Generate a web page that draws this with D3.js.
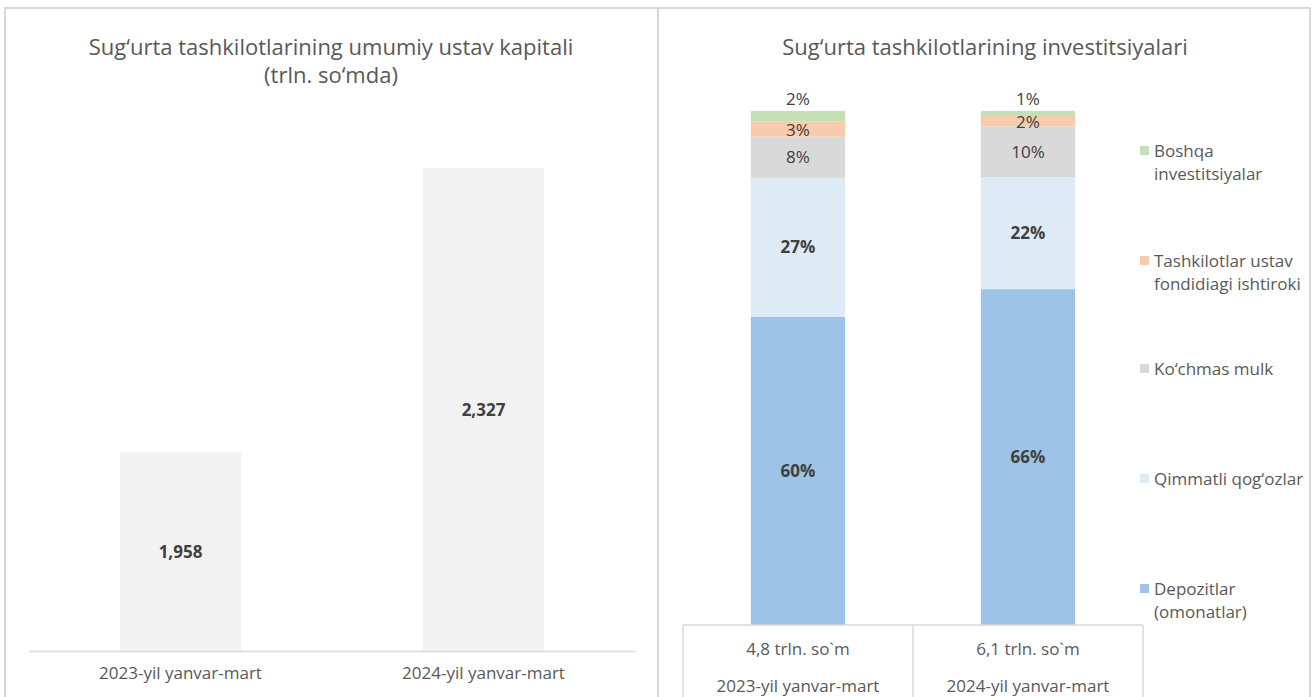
<!DOCTYPE html>
<html lang="uz">
<head>
<meta charset="UTF-8">
<title>Sug‘urta tashkilotlari</title>
<script src="https://d3js.org/d3.v7.min.js"></script>
<style>
    body { margin: 0; background: #fff; font-family: "Open Sans", "Noto Sans", sans-serif; }
    text { fill: #595959; }
    .lbl { fill: #404040; }
</style>
</head>
<body>
<div id="chart"></div>
<script>
    // --- data ---
    const periods = ["2023-yil yanvar-mart", "2024-yil yanvar-mart"];
    const capital = [1.958, 2.327];
    const capitalLabels = ["1,958", "2,327"];

    const investTotals = ["4,8 trln. so`m", "6,1 trln. so`m"];
    const seriesNames = ["Depozitlar (omonatlar)", "Qimmatli qog‘ozlar", "Ko‘chmas mulk",
        "Tashkilotlar ustav fondidiagi ishtiroki", "Boshqa investitsiyalar"];
    const legendLines = [["Depozitlar", "(omonatlar)"], ["Qimmatli qog‘ozlar"], ["Ko‘chmas mulk"],
        ["Tashkilotlar ustav", "fondidiagi ishtiroki"], ["Boshqa", "investitsiyalar"]];
    const depozit = [60, 66];
    const qimmatli = [27, 22];
    const kochmas = [8, 10];
    const tashkilot = [3, 2];
    const boshqa = [2, 1];
    const colors = ["#9dc3e6", "#deebf7", "#d9d9d9", "#f8cbad", "#c5e0b4"];

    const W = 1313, H = 697;
    const svg = d3.select("#chart").append("svg").attr("width", W).attr("height", H);

    // panel frames
    svg.append("rect").attr("x", 5).attr("y", 8).attr("width", 653).attr("height", 700)
        .attr("fill", "none").attr("stroke", "#d9d9d9").attr("stroke-width", 2);
    svg.append("rect").attr("x", 658).attr("y", 8).attr("width", 652).attr("height", 700)
        .attr("fill", "none").attr("stroke", "#d9d9d9").attr("stroke-width", 2);

    // ---------- left chart ----------
    const base = 651;
    const x1 = d3.scaleBand().domain(periods).range([29, 635]).paddingInner(0.6).paddingOuter(0.3);
    const y1 = d3.scaleLinear().domain([1.7, 2.4]).range([base, 112]);

    const left = svg.append("g");
    left.append("text").attr("x", 331).attr("y", 55).attr("text-anchor", "middle")
        .style("font-size", "22px").text("Sug‘urta tashkilotlarining umumiy ustav kapitali");
    left.append("text").attr("x", 331).attr("y", 83).attr("text-anchor", "middle")
        .style("font-size", "22px").text("(trln. so‘mda)");

    left.selectAll("rect.bar").data(capital).join("rect")
        .attr("class", "bar")
        .attr("x", (d, i) => x1(periods[i]))
        .attr("y", d => y1(d))
        .attr("width", x1.bandwidth())
        .attr("height", d => base - y1(d))
        .attr("fill", "#f2f2f2");

    left.selectAll("text.val").data(capital).join("text")
        .attr("class", "val lbl")
        .attr("x", (d, i) => x1(periods[i]) + x1.bandwidth() / 2)
        .attr("y", d => (y1(d) + base) / 2)
        .attr("dy", "0.35em")
        .attr("text-anchor", "middle")
        .style("font-size", "17px").style("font-weight", "bold")
        .text((d, i) => capitalLabels[i]);

    const ax1 = left.append("g").attr("transform", `translate(0,${base})`)
        .call(d3.axisBottom(x1).tickSize(0).tickPadding(16));
    ax1.select(".domain").attr("stroke", "#d9d9d9").attr("stroke-width", 1.5);
    ax1.selectAll("text").style("font-size", "17px").style("font-family", "'Open Sans', sans-serif")
        .attr("fill", "#595959");

    // ---------- right chart ----------
    const base2 = 625;
    const x2 = d3.scaleBand().domain(periods).range([683, 1143]).paddingInner(0.59).paddingOuter(0.295);
    const y2 = d3.scaleLinear().domain([0, 1]).range([base2, 111]);

    const rows = periods.map((p, i) => ({
        period: p,
        s0: depozit[i], s1: qimmatli[i], s2: kochmas[i], s3: tashkilot[i], s4: boshqa[i]
    }));
    const keys = ["s0", "s1", "s2", "s3", "s4"];
    const stacked = d3.stack().keys(keys).offset(d3.stackOffsetExpand)(rows);

    const right = svg.append("g");
    right.append("text").attr("x", 985).attr("y", 55).attr("text-anchor", "middle")
        .style("font-size", "22px").text("Sug‘urta tashkilotlarining investitsiyalari");

    const layer = right.selectAll("g.layer").data(stacked).join("g")
        .attr("class", "layer").attr("fill", (d, i) => colors[i]);

    layer.selectAll("rect").data(d => d).join("rect")
        .attr("x", d => x2(d.data.period))
        .attr("y", d => y2(d[1]))
        .attr("width", x2.bandwidth())
        .attr("height", d => y2(d[0]) - y2(d[1]));

    stacked.forEach((s, si) => {
        right.selectAll(null).data(s).join("text")
            .attr("class", "lbl")
            .attr("x", d => x2(d.data.period) + x2.bandwidth() / 2)
            .attr("y", d => si === 4 ? y2(d[1]) - 12 : (y2(d[0]) + y2(d[1])) / 2 + (si === 3 ? 1 : 0))
            .attr("dy", "0.35em")
            .attr("text-anchor", "middle")
            .style("font-size", "17px")
            .style("font-weight", si < 2 ? "bold" : "normal")
            .text(d => d.data[keys[si]] + "%");
    });

    // table under bars
    const tbl = right.append("g").attr("stroke", "#d9d9d9").attr("stroke-width", 1.5);
    const [t0, t1] = x2.range();
    const step = x2.step();
    tbl.append("line").attr("x1", t0).attr("x2", t1).attr("y1", base2).attr("y2", base2);
    [t0, t0 + step, t1].forEach(xx => {
        tbl.append("line").attr("x1", xx).attr("x2", xx).attr("y1", base2).attr("y2", H);
    });
    periods.forEach((p, i) => {
        const cx = x2(p) + x2.bandwidth() / 2;
        right.append("text").attr("x", cx).attr("y", 655).attr("text-anchor", "middle")
            .style("font-size", "17px").text(investTotals[i]);
        right.append("text").attr("x", cx).attr("y", 692).attr("text-anchor", "middle")
            .style("font-size", "17px").text(p);
    });

    // legend (top = last series)
    const legendY = [594, 484, 374, 266, 156];
    const leg = right.selectAll("g.leg").data(seriesNames).join("g")
        .attr("class", "leg")
        .attr("transform", (d, i) => `translate(1140,${legendY[i]})`);
    leg.append("rect").attr("x", 0).attr("y", -10).attr("width", 9).attr("height", 9)
        .attr("fill", (d, i) => colors[i]);
    leg.each(function (d, i) {
        legendLines[i].forEach((ln, k) => {
            d3.select(this).append("text").attr("x", 14).attr("y", 1 + k * 23)
                .style("font-size", "17px").text(ln);
        });
    });
</script>
</body>
</html>
